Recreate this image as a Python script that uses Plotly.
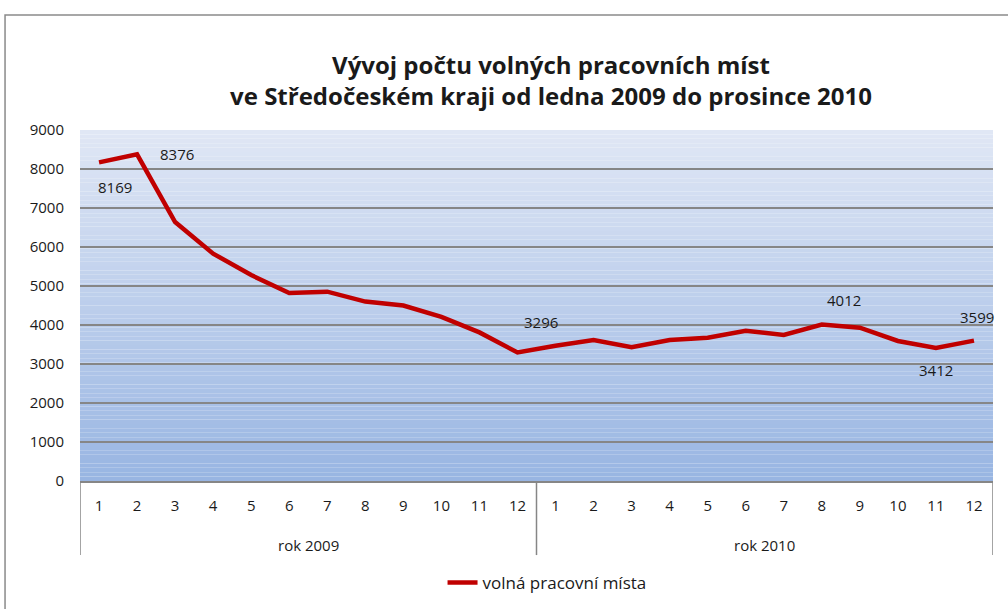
import plotly.graph_objects as go

year_labels = ["rok 2009", "rok 2010"]
month_labels = [str(m) for m in range(1, 13)]
values_2009 = [8169, 8376, 6640, 5830, 5280, 4820, 4855, 4600, 4500, 4210, 3810, 3296]
values_2010 = [3470, 3615, 3430, 3615, 3675, 3850, 3745, 4012, 3930, 3590, 3412, 3599]
series_name = "volná pracovní místa"
title_text = "Vývoj počtu volných pracovních míst<br>ve Středočeském kraji od ledna 2009 do prosince 2010"

# indices of points that carry a data label (label offsets in px)
label_idx = [0, 1, 11, 19, 22, 23]
label_shift = [(16, -25), (40, 0), (24, 30), (22, 25), (0, -22), (3, 24)]

values = values_2009 + values_2010
groups = [values_2009, values_2010]
xs = list(range(len(values)))
ticktext = month_labels * len(groups)

FONT = "Open Sans"
TXT = "#1a1a1a"
GRID = "#868686"
fig = go.Figure()

fig.add_trace(go.Scatter(
    x=xs, y=values, mode="lines", name=series_name,
    line=dict(color="#c00000", width=4.5),
))

annotations = []
for i, (dx, dy) in zip(label_idx, label_shift):
    annotations.append(dict(x=xs[i], y=values[i], xref="x", yref="y", text=str(values[i]),
                            showarrow=False, xshift=dx, yshift=dy,
                            font=dict(family=FONT, size=15, color=TXT)))

# year group labels and dividers
shapes = []
start = 0
bounds = [-0.5]
for lab, g in zip(year_labels, groups):
    mid = start + (len(g) - 1) / 2
    annotations.append(dict(x=mid, y=-0.182, xref="x", yref="paper", text=lab,
                            showarrow=False, yanchor="middle",
                            font=dict(family=FONT, size=15, color=TXT)))
    start += len(g)
    bounds.append(start - 0.5)
for b in bounds:
    shapes.append(dict(type="line", xref="x", yref="paper", x0=b, x1=b, y0=0, y1=-0.211,
                       line=dict(color=GRID, width=1.5)))

# vertical gradient background of the plot area
n = 80
top = (224, 231, 245)
bot = (152, 181, 226)
for k in range(n):
    t = (k + 0.5) / n
    c = tuple(round(bot[j] + (top[j] - bot[j]) * t) for j in range(3))
    shapes.append(dict(type="rect", xref="x domain", yref="y domain",
                       x0=0, x1=1, y0=k / n, y1=(k + 1) / n,
                       fillcolor="rgb(%d,%d,%d)" % c, line=dict(width=0), layer="below"))
# outer chart border
shapes.append(dict(type="rect", xref="paper", yref="paper",
                   x0=-0.0821, x1=1.03, y0=-0.40, y1=1.3276,
                   line=dict(color="#8a8a8a", width=1.5), fillcolor="rgba(0,0,0,0)"))

fig.update_layout(
    width=1008, height=609,
    margin=dict(l=80, r=15, t=130, b=128, autoexpand=False),
    paper_bgcolor="white", plot_bgcolor="rgba(0,0,0,0)",
    shapes=shapes, annotations=annotations,
    title=dict(text="<b>" + title_text + "</b>", x=0.5466, xanchor="center",
               y=0.879, yanchor="middle", yref="container",
               font=dict(family=FONT, size=24, color=TXT)),
    font=dict(family=FONT, size=15, color=TXT),
    showlegend=True,
    legend=dict(orientation="h", x=0.5427, xanchor="center", xref="container",
                y=0.0427, yanchor="middle", yref="container",
                font=dict(family=FONT, size=17, color=TXT)),
    xaxis=dict(range=[-0.5, len(values) - 0.5], tickvals=xs, ticktext=ticktext,
               showgrid=False, zeroline=False, showline=True, linecolor=GRID, linewidth=1.5,
               ticks="", ticklabelstandoff=10, automargin=False,
               tickfont=dict(family=FONT, size=15, color=TXT)),
    yaxis=dict(range=[0, 9000], dtick=1000, showgrid=True, gridcolor=GRID,
               gridwidth=1.5, zeroline=False, showline=False, ticks="",
               ticklabelstandoff=15, tickformat="d", automargin=False,
               tickfont=dict(family=FONT, size=15, color=TXT)),
)

fig.write_html("out.html", config={"displayModeBar": False},
               post_script="document.body.style.margin='0';")
